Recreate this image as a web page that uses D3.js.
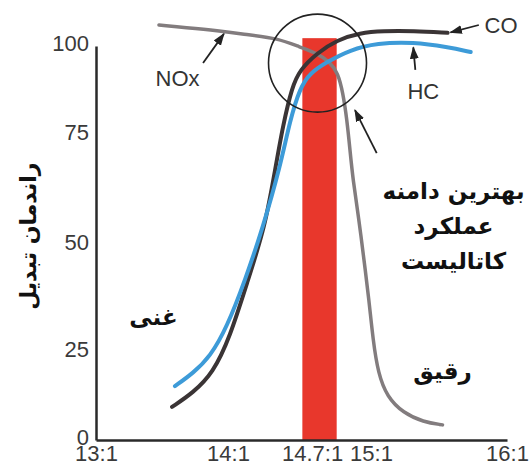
<!DOCTYPE html>
<html>

<head>
  <title>Catalyst window</title>
  <script src="https://cdn.jsdelivr.net/npm/d3@7"></script>
  <style>
    body { margin: 0; background: #fff; }
  </style>
</head>

<body>
  <svg width="531" height="473" id="mainsvg"></svg>
  <script>
    // air/fuel ratio (x) and conversion efficiency % (y)
    const xTicks = [13, 14, 14.7, 15, 16];
    const xTickLabels = ['13:1', '14:1', '14.7:1', '15:1', '16:1'];
    const yTicks = [0, 25, 50, 75, 100];

    const coAfr = [13.576, 13.735, 13.886, 14.014, 14.133, 14.259, 14.329, 14.385, 14.448, 14.503, 14.622, 14.762, 14.923, 15.089, 15.311, 15.563];
    const coVal = [9.4, 13.4, 19.0, 28.5, 41.1, 54.1, 67.0, 77.8, 88.5, 93.3, 98.0, 101.7, 103.7, 104.2, 104.2, 103.7];

    const hcAfr = [13.598, 13.735, 13.864, 13.992, 14.12, 14.245, 14.364, 14.434, 14.503, 14.573, 14.692, 14.853, 15.044, 15.311, 15.563, 15.733];
    const hcVal = [15.3, 19.0, 23.6, 30.8, 41.8, 54.1, 67.7, 79.2, 88.2, 92.4, 95.5, 98.9, 100.8, 101.1, 99.7, 98.3];

    const noxAfr = [13.477, 13.811, 14.154, 14.343, 14.503, 14.622, 14.713, 14.769, 14.804, 14.832, 14.853, 14.874, 14.916, 14.951, 14.986, 15.015, 15.052, 15.119, 15.237, 15.385, 15.526];
    const noxVal = [105.9, 104.8, 103.1, 102.2, 99.7, 98.0, 95.5, 92.4, 86.8, 79.2, 71.6, 64.8, 55.7, 46.5, 37.1, 27.8, 19.0, 12.2, 7.7, 5.1, 4.3];

    // best operating window
    const windowAfr = [14.52, 14.76];
    const windowTop = 102.2;
    const circleCenter = [14.626, 95.2];

    const svg = d3.select('#mainsvg');

    // the printed axis is not evenly spaced, so piecewise scales
    const x = d3.scaleLinear().domain([13, 14, 15, 16]).range([96, 228, 371, 507]);
    const y = d3.scaleLinear().domain([0, 25, 50, 75, 100]).range([440, 352, 245, 135, 46]);

    const line = d3.line()
      .x(d => x(d[0]))
      .y(d => y(d[1]))
      .curve(d3.curveBasis);

    svg.append('rect')
      .attr('x', x(windowAfr[0]))
      .attr('y', y(windowTop))
      .attr('width', x(windowAfr[1]) - x(windowAfr[0]))
      .attr('height', y(0) - y(windowTop))
      .attr('fill', '#e8372c');

    const series = [
      { afr: noxAfr, val: noxVal, color: '#827c7e', w: 3.5 },
      { afr: coAfr, val: coVal, color: '#3a3435', w: 4 },
      { afr: hcAfr, val: hcVal, color: '#3d9bd8', w: 4 }
    ];

    svg.selectAll('path.curve').data(series).join('path')
      .attr('class', 'curve')
      .attr('d', s => line(s.afr.map((a, i) => [a, s.val[i]])))
      .attr('fill', 'none')
      .attr('stroke', s => s.color)
      .attr('stroke-width', s => s.w)
      .attr('stroke-linecap', 'round');

    svg.append('circle')
      .attr('cx', x(circleCenter[0]))
      .attr('cy', y(circleCenter[1]))
      .attr('r', 49)
      .attr('fill', 'none')
      .attr('stroke', '#222')
      .attr('stroke-width', 1.6);

    // axes
    const yAxis = svg.append('g')
      .attr('transform', `translate(${x(13)},0)`)
      .call(d3.axisLeft(y).tickValues(yTicks).tickSize(0).tickPadding(7));

    const xAxis = svg.append('g')
      .attr('transform', `translate(0,${y(0)})`)
      .call(d3.axisBottom(x).tickValues(xTicks).tickSize(0).tickPadding(5)
        .tickFormat((d, i) => xTickLabels[i]));

    [xAxis, yAxis].forEach(g => {
      g.select('.domain').attr('stroke', '#2a2a2a').attr('stroke-width', 2.5);
      g.selectAll('text')
        .attr('font-family', 'Liberation Sans, Arial, sans-serif')
        .attr('font-size', 22)
        .attr('fill', '#3a3a3a');
    });
    yAxis.selectAll('.tick text').attr('dy', '0.22em');
    xAxis.selectAll('.tick text').filter(d => d === 14.7).attr('dx', -16);

    // arrows
    svg.append('defs').append('marker')
      .attr('id', 'head')
      .attr('viewBox', '0 0 10 10')
      .attr('refX', 9).attr('refY', 5)
      .attr('markerWidth', 7).attr('markerHeight', 7)
      .attr('orient', 'auto')
      .append('path')
      .attr('d', 'M0,1.5 L10,5 L0,8.5 Z')
      .attr('fill', '#222');

    const arrows = [
      [[13.811, 95.2], [13.969, 103.4]],
      [[15.793, 105.9], [15.585, 103.8]],
      [[15.326, 93.3], [15.311, 99.6]],
      [[15.042, 70.9], [14.888, 82.0]]
    ];
    svg.selectAll('line.arrow').data(arrows).join('line')
      .attr('class', 'arrow')
      .attr('x1', d => x(d[0][0])).attr('y1', d => y(d[0][1]))
      .attr('x2', d => x(d[1][0])).attr('y2', d => y(d[1][1]))
      .attr('stroke', '#222')
      .attr('stroke-width', 1.8)
      .attr('marker-end', 'url(#head)');

    // curve labels
    const curveLabels = [
      { t: 'NOx', p: [13.618, 91.0] },
      { t: 'CO', p: [15.956, 105.9] },
      { t: 'HC', p: [15.385, 87.4] }
    ];
    svg.selectAll('text.clabel').data(curveLabels).join('text')
      .attr('class', 'clabel')
      .attr('x', d => x(d.p[0]))
      .attr('y', d => y(d.p[1]))
      .attr('dy', '0.35em')
      .attr('text-anchor', 'middle')
      .attr('font-family', 'Liberation Sans, Arial, sans-serif')
      .attr('font-size', 22)
      .attr('fill', '#333')
      .text(d => d.t);

    // persian notes
    const notes = [
      { t: 'بهترین دامنه', p: [15.607, 62.3] },
      { t: 'عملکرد', p: [15.607, 54.4] },
      { t: 'کاتالیست', p: [15.607, 46.3] },
      { t: 'غنی', p: [13.435, 33.3] },
      { t: 'رقیق', p: [15.526, 19.6] }
    ];
    svg.selectAll('text.note').data(notes).join('text')
      .attr('class', 'note')
      .attr('x', d => x(d.p[0]))
      .attr('y', d => y(d.p[1]))
      .attr('dy', '0.35em')
      .attr('text-anchor', 'middle')
      .attr('direction', 'rtl')
      .attr('font-family', 'DejaVu Sans, sans-serif')
      .attr('font-weight', 'bold')
      .attr('font-size', 23)
      .attr('fill', '#111')
      .text(d => d.t);

    svg.append('text')
      .attr('transform', `translate(28,${y(52)}) rotate(-90)`)
      .attr('dy', '0.35em')
      .attr('text-anchor', 'middle')
      .attr('direction', 'rtl')
      .attr('font-family', 'DejaVu Sans, sans-serif')
      .attr('font-weight', 'bold')
      .attr('font-size', 22)
      .attr('fill', '#111')
      .text('راندمان تبدیل');
  </script>
</body>

</html>
